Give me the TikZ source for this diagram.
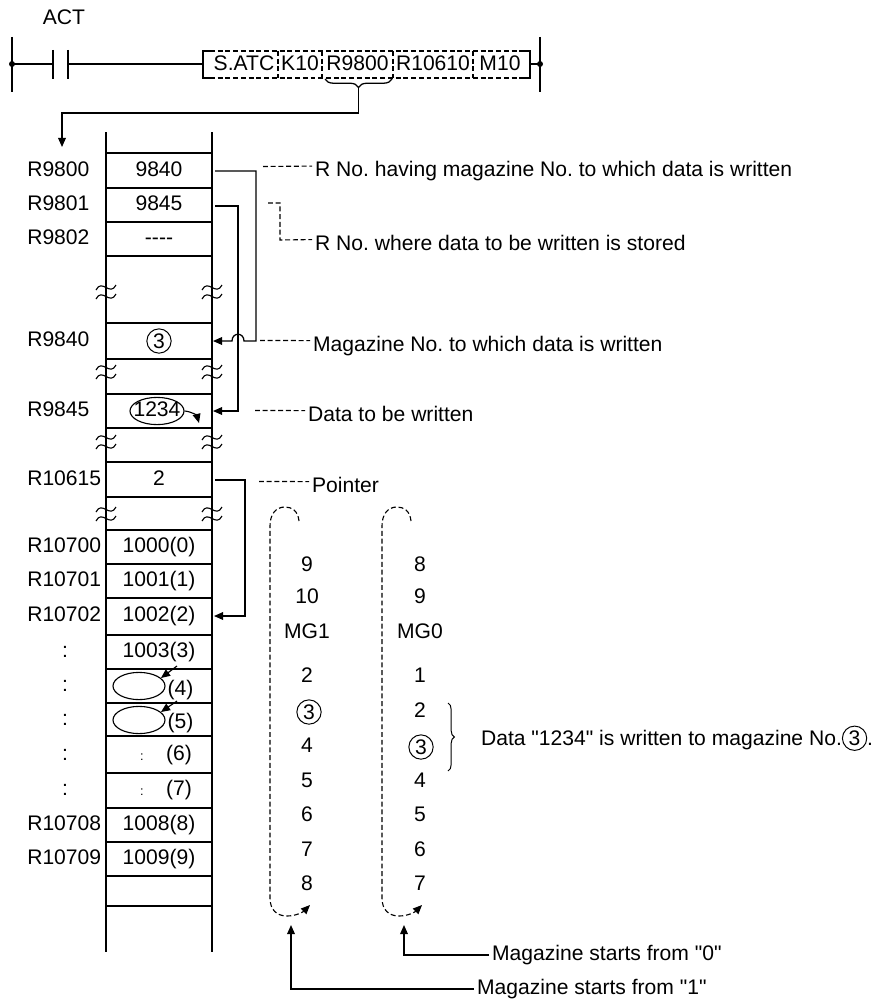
\documentclass[tikz,border=0pt]{standalone}
\usepackage{fontspec}
\setmainfont{Liberation Sans}[Ligatures=TeXOff]
\usetikzlibrary{arrows.meta, shapes.geometric, decorations.pathreplacing, positioning}
\frenchspacing

\newcommand\circthree{\tikz[baseline=(ct.base)]\node[circ] (ct) {3};}

\begin{document}
\begin{tikzpicture}[
    x=0.025cm, y=-0.025cm,
    every node/.style={font=\fontsize{15}{18}\selectfont, inner sep=0pt, text height=11pt, text depth=3pt},
    wire/.style={line width=0.9pt},
    leader/.style={line width=0.8pt, dash pattern=on 3.5pt off 2pt},
    ptr/.style={-{Triangle[length=6.5pt, width=5.5pt]}, line width=0.9pt},
    note/.style={anchor=west, inner xsep=2pt},
    rlbl/.style={anchor=west},
    circ/.style={draw, circle, inner sep=1.4pt, text height=10.5pt, text depth=0pt, line width=0.7pt},
    ovl/.style={ellipse, draw, line width=0.8pt, minimum width=1.3cm, minimum height=0.68cm, text height=0pt, text depth=0pt},
    mgcol/.style={line width=0.8pt, dash pattern=on 3.5pt off 2pt, -{Triangle[length=6.5pt, width=5.5pt]}},
    brk/.pic={
        \draw[line width=0.8pt] (-10,-3) .. controls (-4,-15) and (4,4) .. (10,-8);
        \draw[line width=0.8pt] (-10,6) .. controls (-4,-6) and (4,13) .. (10,1);
    },
]
\useasboundingbox (0,0) rectangle (880,1005);

% Top: ladder rung with S.ATC
\node (act) at (64,19) {ACT};
\draw[wire] (12,37) -- (12,92);
\draw[wire] (540,37) -- (540,92);
\fill (12,64) circle[radius=3];
\fill (540,64) circle[radius=3];
\draw[wire] (12,64) -- (53,64) (53,50) -- (53,79) (68,50) -- (68,79) (68,64) -- (203,64);
\draw[wire] (210,51) -- (203,51) -- (203,78) -- (210,78);
\draw[leader] (210,51) -- (522,51) (210,78) -- (522,78);
\draw[wire] (522,51) -- (530,51) -- (530,78) -- (522,78);
\draw[wire] (530,64) -- (540,64);
\foreach \x in {278,322,393,473} \draw[leader] (\x,51) -- (\x,78);
\node (satc) at (244,64.5) {S.ATC};
\node (k10) at (300,64.5) {K10};
\node (r9800) at (357.5,64.5) {R9800};
\node (r10610) at (433,64.5) {R10610};
\node (m10) at (500,64.5) {M10};

% Brace down to the table
\draw[wire, decorate, decoration={brace, amplitude=6pt, mirror}] (325,79) -- (392,79);
\coordinate (brtip) at (358.5,88);
\coordinate (tblin) at (62,147);
\draw[ptr] (brtip) -- ++(0,25) -| (tblin);

% Table
\draw[wire] (106,132) -- (106,952) (212,132) -- (212,952);
\foreach \y in {153,188,222,256,323,359,394,428,462,497,530,564,598,635,669,703,736,773,808,842,876,906}
    \draw[wire] (106,\y) -- (212,\y);
\foreach \y in {293,373,443,515} {
    \pic at (106,\y) {brk};
    \pic at (212,\y) {brk};
}

% Register names
\node[rlbl] (l9800) at (27,171) {R9800};
\node[rlbl] (l9801) at (27,205) {R9801};
\node[rlbl] (l9802) at (27,239) {R9802};
\node[rlbl] (l9840) at (27,341) {R9840};
\node[rlbl] (l9845) at (27,411) {R9845};
\node[rlbl] (l10615) at (27,480) {R10615};
\node[rlbl] (l10700) at (27,547) {R10700};
\node[rlbl] (l10701) at (27,581) {R10701};
\node[rlbl] (l10702) at (27,616) {R10702};
\foreach \y [count=\i] in {652,686,720,755,790} \node (dots\i) at (65,\y) {:};
\node[rlbl] (l10708) at (27,825) {R10708};
\node[rlbl] (l10709) at (27,859) {R10709};

% Cell contents
\node (v9800) at (159,171) {9840};
\node (v9801) at (159,205) {9845};
\node (v9802) at (159,239) {----};
\node[circ] (v9840) at (159,341) {3};
\node[ovl, minimum width=1.35cm] (e1234) at (157,411) {};
\node (v9845) at (157,411) {1234};
\node (v10615) at (159,480) {2};
\node (v10700) at (159,547) {1000(0)};
\node (v10701) at (159,581) {1001(1)};
\node (v10702) at (159,616) {1002(2)};
\node (v10703) at (159,652) {1003(3)};
\node[ovl] (e4) at (139,686) {};
\node (v10704) at (180.5,690) {(4)};
\node[ovl] (e5) at (139,720) {};
\node (v10705) at (180.5,723) {(5)};
\node[font=\fontsize{9}{10}\selectfont] (c6) at (142,755) {:};
\node (v10706) at (179,755) {(6)};
\node[font=\fontsize{9}{10}\selectfont] (c7) at (142,790) {:};
\node (v10707) at (179,790) {(7)};
\node (v10708) at (159,825) {1008(8)};
\node (v10709) at (159,859) {1009(9)};

% Small arrows inside the table
\coordinate (tip1234) at (199,423);
\draw[ptr, line width=0.8pt] (e1234.east) to[bend left=35] (tip1234);
\coordinate (a4) at (177,666);
\coordinate (a5) at (177,701);
\draw[ptr, line width=0.8pt] (a4) -- (e4.20);
\draw[ptr, line width=0.8pt] (a5) -- (e5.20);

% Pointers
\coordinate (s9800) at (215,171);
\coordinate (s9801) at (215,206);
\coordinate (s10615) at (215,480);
\coordinate (t9840) at (213,341);
\coordinate (t9845) at (213,411);
\coordinate (t10702) at (214,616);
\draw[ptr] (s9800) -- (256,171) -- (256,341) -- (244,341) .. controls (244,332) and (232,332) .. (232,341) -- (t9840);
\draw[ptr] (s9801) -- ++(23,0) |- (t9845);
\draw[ptr] (s10615) -- ++(30,0) |- (t10702);

% Notes
\node[note] (n1) at (312,171) {R No. having magazine No. to which data is written};
\node[note] (n2) at (312,244.5) {R No. where data to be written is stored};
\node[note] (n3) at (310,345.5) {Magazine No. to which data is written};
\node[note] (n4) at (305,415.5) {Data to be written};
\node[note] (n5) at (309,486.5) {Pointer};
\draw[leader] (263,166.5) -- ([yshift=3.5pt]n1.west);
\draw[leader] (268,203) -- (280,203) -- (280,240) -- ([yshift=3.5pt]n2.west);
\draw[leader] (260,340.5) -- ([yshift=3.5pt]n3.west);
\draw[leader] (255,410.5) -- ([yshift=3.5pt]n4.west);
\draw[leader] (259,481.5) -- ([yshift=3.5pt]n5.west);

% Magazine MG1
\draw[mgcol] (299,521) .. controls (298,511) and (292,507) .. (285,507) .. controls (276,507) and (270,514) .. (270,526)
    -- (270,898) .. controls (270,910) and (277,916) .. (287,916) .. controls (296,916) and (303,912) .. (310,905);
\foreach \t/\y [count=\i] in {9/566,10/598,MG1/633,2/677,4/747,5/782,6/816,7/851,8/885}
    \node (mga\i) at (307,\y) {\t};
\node[circ] (mgaw) at (309,712) {3};

% Magazine MG0
\draw[mgcol] (411,521) .. controls (410,511) and (404,507) .. (397,507) .. controls (388,507) and (382,514) .. (382,526)
    -- (382,898) .. controls (382,910) and (389,916) .. (399,916) .. controls (408,916) and (415,912) .. (422,905);
\foreach \t/\y [count=\i] in {8/566,9/598,MG0/633,1/677,2/712,4/782,5/816,6/851,7/885}
    \node (mgb\i) at (420,\y) {\t};
\node[circ] (mgbw) at (421,747) {3};

% Data written
\draw[line width=0.7pt, decorate, decoration={brace, amplitude=4.5pt}] (448,703) -- (448,771);
\node[note] (datanote) at (478,740) {Data "1234" is written to magazine No.\circthree.};

% Magazine start
\node[note] (st0) at (489,955) {Magazine starts from "0"};
\node[note] (st1) at (474,989) {Magazine starts from "1"};
\coordinate (mg0foot) at (404,925);
\coordinate (mg1foot) at (291,925);
\draw[ptr] (st0.west) -| (mg0foot);
\draw[ptr] (st1.west) -| (mg1foot);

\end{tikzpicture}
\end{document}
